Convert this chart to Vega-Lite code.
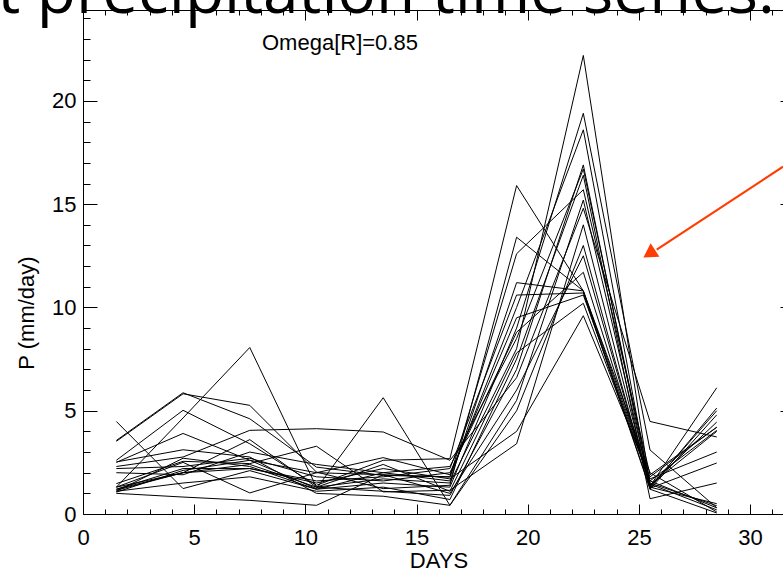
{
  "$schema": "https://vega.github.io/schema/vega-lite/v6.json",
  "width": 700,
  "height": 504,
  "autosize": {"type": "none"},
  "padding": {"left": 83, "top": 10, "right": 0, "bottom": 57},
  "background": "white",
  "config": {
    "view": {"stroke": null},
    "font": "Liberation Sans",
    "axis": {
      "labelFont": "Liberation Sans", "titleFont": "Liberation Sans",
      "labelFontSize": 22, "titleFontSize": 22, "titleFontWeight": "normal",
      "labelColor": "#000", "titleColor": "#000", "domainColor": "#000", "tickColor": "#000",
      "domainWidth": 1, "tickWidth": 1, "grid": false, "labelFlush": false, "labelOverlap": false
    }
  },
  "datasets": {
    "ens": [
      {"m":1,"d":1.5,"p":1.2},{"m":1,"d":4.5,"p":2.0},{"m":1,"d":7.5,"p":2.4},{"m":1,"d":10.5,"p":1.3},{"m":1,"d":13.5,"p":1.7},{"m":1,"d":16.5,"p":1.5},{"m":1,"d":19.5,"p":8.0},{"m":1,"d":22.5,"p":22.2},{"m":1,"d":25.5,"p":1.4},{"m":1,"d":28.5,"p":4.0},
      {"m":2,"d":1.5,"p":1.1},{"m":2,"d":4.5,"p":2.7},{"m":2,"d":7.5,"p":2.3},{"m":2,"d":10.5,"p":1.2},{"m":2,"d":13.5,"p":1.5},{"m":2,"d":16.5,"p":1.3},{"m":2,"d":19.5,"p":9.0},{"m":2,"d":22.5,"p":19.4},{"m":2,"d":25.5,"p":3.1},{"m":2,"d":28.5,"p":0.3},
      {"m":3,"d":1.5,"p":2.5},{"m":3,"d":4.5,"p":3.9},{"m":3,"d":7.5,"p":2.6},{"m":3,"d":10.5,"p":2.0},{"m":3,"d":13.5,"p":1.9},{"m":3,"d":16.5,"p":1.8},{"m":3,"d":19.5,"p":10.0},{"m":3,"d":22.5,"p":18.6},{"m":3,"d":25.5,"p":1.3},{"m":3,"d":28.5,"p":5.0},
      {"m":4,"d":1.5,"p":1.3},{"m":4,"d":4.5,"p":4.65},{"m":4,"d":7.5,"p":8.06},{"m":4,"d":10.5,"p":1.3},{"m":4,"d":13.5,"p":1.1},{"m":4,"d":16.5,"p":0.9},{"m":4,"d":19.5,"p":7.0},{"m":4,"d":22.5,"p":16.9},{"m":4,"d":25.5,"p":1.2},{"m":4,"d":28.5,"p":4.8},
      {"m":5,"d":1.5,"p":4.48},{"m":5,"d":4.5,"p":1.23},{"m":5,"d":7.5,"p":2.1},{"m":5,"d":10.5,"p":1.2},{"m":5,"d":13.5,"p":2.0},{"m":5,"d":16.5,"p":2.3},{"m":5,"d":19.5,"p":8.5},{"m":5,"d":22.5,"p":16.7},{"m":5,"d":25.5,"p":1.5},{"m":5,"d":28.5,"p":0.4},
      {"m":6,"d":1.5,"p":3.56},{"m":6,"d":4.5,"p":5.87},{"m":6,"d":7.5,"p":4.61},{"m":6,"d":10.5,"p":2.27},{"m":6,"d":13.5,"p":1.87},{"m":6,"d":16.5,"p":1.79},{"m":6,"d":19.5,"p":12.6},{"m":6,"d":22.5,"p":15.7},{"m":6,"d":25.5,"p":1.9},{"m":6,"d":28.5,"p":4.2},
      {"m":7,"d":1.5,"p":3.52},{"m":7,"d":4.5,"p":5.82},{"m":7,"d":7.5,"p":5.26},{"m":7,"d":10.5,"p":2.03},{"m":7,"d":13.5,"p":1.23},{"m":7,"d":16.5,"p":1.39},{"m":7,"d":19.5,"p":13.4},{"m":7,"d":22.5,"p":10.8},{"m":7,"d":25.5,"p":2.0},{"m":7,"d":28.5,"p":0.1},
      {"m":8,"d":1.5,"p":2.6},{"m":8,"d":4.5,"p":5.02},{"m":8,"d":7.5,"p":3.4},{"m":8,"d":10.5,"p":1.39},{"m":8,"d":13.5,"p":2.6},{"m":8,"d":16.5,"p":2.68},{"m":8,"d":19.5,"p":15.9},{"m":8,"d":22.5,"p":10.8},{"m":8,"d":25.5,"p":1.7},{"m":8,"d":28.5,"p":3.0},
      {"m":9,"d":1.5,"p":2.52},{"m":9,"d":4.5,"p":3.11},{"m":9,"d":7.5,"p":2.76},{"m":9,"d":10.5,"p":1.0},{"m":9,"d":13.5,"p":0.86},{"m":9,"d":16.5,"p":0.42},{"m":9,"d":19.5,"p":5.5},{"m":9,"d":22.5,"p":15.2},{"m":9,"d":25.5,"p":1.4},{"m":9,"d":28.5,"p":4.45},
      {"m":10,"d":1.5,"p":2.3},{"m":10,"d":4.5,"p":2.76},{"m":10,"d":7.5,"p":4.05},{"m":10,"d":10.5,"p":4.13},{"m":10,"d":13.5,"p":3.97},{"m":10,"d":16.5,"p":2.6},{"m":10,"d":19.5,"p":6.6},{"m":10,"d":22.5,"p":14.8},{"m":10,"d":25.5,"p":4.48},{"m":10,"d":28.5,"p":3.73},
      {"m":11,"d":1.5,"p":1.47},{"m":11,"d":4.5,"p":2.55},{"m":11,"d":7.5,"p":2.44},{"m":11,"d":10.5,"p":3.28},{"m":11,"d":13.5,"p":1.07},{"m":11,"d":16.5,"p":1.15},{"m":11,"d":19.5,"p":3.4},{"m":11,"d":22.5,"p":14.0},{"m":11,"d":25.5,"p":1.3},{"m":11,"d":28.5,"p":0.5},
      {"m":12,"d":1.5,"p":1.06},{"m":12,"d":4.5,"p":2.11},{"m":12,"d":7.5,"p":2.6},{"m":12,"d":10.5,"p":1.23},{"m":12,"d":13.5,"p":5.63},{"m":12,"d":16.5,"p":0.42},{"m":12,"d":19.5,"p":5.0},{"m":12,"d":22.5,"p":13.0},{"m":12,"d":25.5,"p":1.25},{"m":12,"d":28.5,"p":5.13},
      {"m":13,"d":1.5,"p":1.0},{"m":13,"d":4.5,"p":0.82},{"m":13,"d":7.5,"p":0.66},{"m":13,"d":10.5,"p":0.42},{"m":13,"d":13.5,"p":1.9},{"m":13,"d":16.5,"p":1.0},{"m":13,"d":19.5,"p":6.0},{"m":13,"d":22.5,"p":12.5},{"m":13,"d":25.5,"p":1.35},{"m":13,"d":28.5,"p":6.11},
      {"m":14,"d":1.5,"p":1.3},{"m":14,"d":4.5,"p":2.5},{"m":14,"d":7.5,"p":1.02},{"m":14,"d":10.5,"p":2.0},{"m":14,"d":13.5,"p":2.73},{"m":14,"d":16.5,"p":1.9},{"m":14,"d":19.5,"p":9.5},{"m":14,"d":22.5,"p":10.6},{"m":14,"d":25.5,"p":1.6},{"m":14,"d":28.5,"p":4.05},
      {"m":15,"d":1.5,"p":1.2},{"m":15,"d":4.5,"p":2.2},{"m":15,"d":7.5,"p":2.2},{"m":15,"d":10.5,"p":1.6},{"m":15,"d":13.5,"p":1.8},{"m":15,"d":16.5,"p":2.2},{"m":15,"d":19.5,"p":10.6},{"m":15,"d":22.5,"p":10.7},{"m":15,"d":25.5,"p":1.2},{"m":15,"d":28.5,"p":0.05},
      {"m":16,"d":1.5,"p":2.0},{"m":16,"d":4.5,"p":1.9},{"m":16,"d":7.5,"p":3.0},{"m":16,"d":10.5,"p":2.4},{"m":16,"d":13.5,"p":2.0},{"m":16,"d":16.5,"p":1.6},{"m":16,"d":19.5,"p":11.2},{"m":16,"d":22.5,"p":10.8},{"m":16,"d":25.5,"p":1.25},{"m":16,"d":28.5,"p":2.47},
      {"m":17,"d":1.5,"p":1.1},{"m":17,"d":4.5,"p":1.5},{"m":17,"d":7.5,"p":1.8},{"m":17,"d":10.5,"p":1.1},{"m":17,"d":13.5,"p":1.3},{"m":17,"d":16.5,"p":0.7},{"m":17,"d":19.5,"p":7.5},{"m":17,"d":22.5,"p":16.4},{"m":17,"d":25.5,"p":0.74},{"m":17,"d":28.5,"p":1.5},
      {"m":18,"d":1.5,"p":2.2},{"m":18,"d":4.5,"p":2.3},{"m":18,"d":7.5,"p":2.7},{"m":18,"d":10.5,"p":1.8},{"m":18,"d":13.5,"p":1.6},{"m":18,"d":16.5,"p":2.0},{"m":18,"d":19.5,"p":8.8},{"m":18,"d":22.5,"p":11.7},{"m":18,"d":25.5,"p":1.45},{"m":18,"d":28.5,"p":0.2},
      {"m":19,"d":1.5,"p":1.3},{"m":19,"d":4.5,"p":2.0},{"m":19,"d":7.5,"p":3.6},{"m":19,"d":10.5,"p":1.3},{"m":19,"d":13.5,"p":2.4},{"m":19,"d":16.5,"p":1.1},{"m":19,"d":19.5,"p":7.8},{"m":19,"d":22.5,"p":10.2},{"m":19,"d":25.5,"p":1.6},{"m":19,"d":28.5,"p":0.3},
      {"m":20,"d":1.5,"p":1.15},{"m":20,"d":4.5,"p":2.0},{"m":20,"d":7.5,"p":2.2},{"m":20,"d":10.5,"p":1.5},{"m":20,"d":13.5,"p":2.2},{"m":20,"d":16.5,"p":1.7},{"m":20,"d":19.5,"p":4.0},{"m":20,"d":22.5,"p":9.6},{"m":20,"d":25.5,"p":1.8},{"m":20,"d":28.5,"p":4.2}
    ]
  },
  "resolve": {"axis": {"x": "independent", "y": "independent"}},
  "layer": [
    {
      "data": {"name": "ens"},
      "mark": {"type": "line", "color": "#000", "strokeWidth": 1},
      "encoding": {
        "x": {"field": "d", "type": "quantitative", "scale": {"domain": [0, 31.48], "nice": false, "zero": false},
              "axis": {"orient": "bottom", "values": [0,5,10,15,20,25,30], "ticks": false, "domain": true, "labelPadding": 13,
                       "title": "DAYS", "titleX": 355.5, "titleY": 53, "titleAlign": "center", "titleBaseline": "alphabetic", "titleAnchor": null}},
        "y": {"field": "p", "type": "quantitative", "scale": {"domain": [0, 24.4], "nice": false, "zero": false},
              "axis": {"orient": "left", "values": [0,5,10,15,20], "ticks": false, "domain": true, "labelPadding": 7,
                       "title": "P (mm/day)", "titleX": -50, "titleY": 302.5, "titleAngle": 270, "titleAlign": "center", "titleBaseline": "alphabetic"}},
        "detail": {"field": "m", "type": "nominal"}
      }
    },
    {
      "data": {"name": "ens"},
      "mark": {"type": "point", "opacity": 0},
      "encoding": {
        "x": {"field": "d", "type": "quantitative", "scale": {"domain": [0, 31.48], "nice": false, "zero": false},
              "axis": {"orient": "bottom", "values": [0,5,10,15,20,25,30], "labels": false, "domain": false, "tickSize": -10, "title": null}},
        "y": {"field": "p", "type": "quantitative", "scale": {"domain": [0, 24.4], "nice": false, "zero": false},
              "axis": {"orient": "left", "values": [0,5,10,15,20], "labels": false, "domain": false, "tickSize": -14, "title": null}}
      }
    },
    {
      "data": {"name": "ens"},
      "mark": {"type": "point", "opacity": 0},
      "encoding": {
        "x": {"field": "d", "type": "quantitative", "scale": {"domain": [0, 31.48], "nice": false, "zero": false},
              "axis": {"orient": "bottom", "values": [1,2,3,4,6,7,8,9,11,12,13,14,16,17,18,19,21,22,23,24,26,27,28,29,31], "labels": false, "domain": false, "tickSize": -5, "title": null}},
        "y": {"field": "p", "type": "quantitative", "scale": {"domain": [0, 24.4], "nice": false, "zero": false},
              "axis": {"orient": "left", "values": [1,2,3,4,6,7,8,9,11,12,13,14,16,17,18,19,21,22,23,24], "labels": false, "domain": false, "tickSize": -7, "title": null}}
      }
    },
    {
      "data": {"name": "ens"},
      "mark": {"type": "point", "opacity": 0},
      "encoding": {
        "x": {"field": "d", "type": "quantitative", "scale": {"domain": [0, 31.48], "nice": false, "zero": false},
              "axis": {"orient": "top", "values": [0,5,10,15,20,25,30], "labels": false, "domain": true, "tickSize": -10, "title": null}},
        "y": {"field": "p", "type": "quantitative", "scale": {"domain": [0, 24.4], "nice": false, "zero": false},
              "axis": {"orient": "right", "values": [0,5,10,15,20], "labels": false, "domain": false, "tickSize": -3, "title": null}}
      }
    },
    {
      "data": {"name": "ens"},
      "mark": {"type": "point", "opacity": 0},
      "encoding": {
        "x": {"field": "d", "type": "quantitative", "scale": {"domain": [0, 31.48], "nice": false, "zero": false},
              "axis": {"orient": "top", "values": [1,2,3,4,6,7,8,9,11,12,13,14,16,17,18,19,21,22,23,24,26,27,28,29,31], "labels": false, "domain": false, "tickSize": -5, "title": null}},
        "y": {"field": "p", "type": "quantitative", "scale": {"domain": [0, 24.4], "nice": false, "zero": false}, "axis": null}
      }
    },
    {
      "data": {"values": [{"x": 8.05, "y": 22.48, "t": "Omega[R]=0.85"}]},
      "mark": {"type": "text", "font": "Liberation Sans", "fontSize": 22, "align": "left", "baseline": "alphabetic", "color": "#000"},
      "encoding": {
        "x": {"field": "x", "type": "quantitative", "scale": {"domain": [0, 31.48], "nice": false, "zero": false}, "axis": null},
        "y": {"field": "y", "type": "quantitative", "scale": {"domain": [0, 24.4], "nice": false, "zero": false}, "axis": null},
        "text": {"field": "t"}
      }
    },
    {
      "data": {"values": [{"x": -3.85, "y": 24.24, "t": "t precipitation time series."}]},
      "mark": {"type": "text", "font": "Open Sans", "fontSize": 64, "align": "left", "baseline": "alphabetic", "color": "#000"},
      "encoding": {
        "x": {"field": "x", "type": "quantitative", "scale": {"domain": [0, 31.48], "nice": false, "zero": false}, "axis": null},
        "y": {"field": "y", "type": "quantitative", "scale": {"domain": [0, 24.4], "nice": false, "zero": false}, "axis": null},
        "text": {"field": "t"}
      }
    },
    {
      "data": {"values": [{"x1": 31.48, "y1": 16.81, "x2": 25.8, "y2": 12.8}]},
      "mark": {"type": "rule", "color": "#ff3d00", "strokeWidth": 2.2},
      "encoding": {
        "x": {"field": "x1", "type": "quantitative", "scale": {"domain": [0, 31.48], "nice": false, "zero": false}, "axis": null},
        "y": {"field": "y1", "type": "quantitative", "scale": {"domain": [0, 24.4], "nice": false, "zero": false}, "axis": null},
        "x2": {"field": "x2"},
        "y2": {"field": "y2"}
      }
    },
    {
      "data": {"values": [{"x": 25.55, "y": 12.66}]},
      "mark": {"type": "point", "shape": "triangle", "filled": true, "color": "#ff3d00", "opacity": 1, "size": 256, "angle": 237, "strokeWidth": 0},
      "encoding": {
        "x": {"field": "x", "type": "quantitative", "scale": {"domain": [0, 31.48], "nice": false, "zero": false}, "axis": null},
        "y": {"field": "y", "type": "quantitative", "scale": {"domain": [0, 24.4], "nice": false, "zero": false}, "axis": null}
      }
    }
  ]
}
